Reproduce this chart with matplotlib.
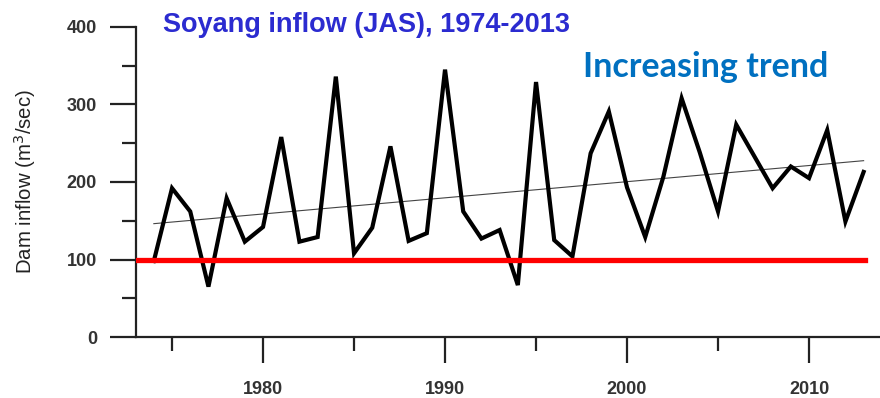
import numpy as np
import matplotlib.pyplot as plt
from matplotlib.ticker import MultipleLocator

# Soyang dam inflow, July-September mean
years = list(range(1974, 2014))
inflow = [98, 192, 162, 65, 179, 123, 142, 258, 123, 129,
          336, 108, 141, 246, 124, 134, 345, 162, 127, 138,
          67, 329, 125, 104, 237, 291, 193, 129, 207, 308,
          238, 162, 274, 233, 192, 220, 205, 267, 149, 213]

threshold = 100
threshold_span = [1973.1, 2013.1]

title = 'Soyang inflow (JAS), 1974-2013'
note = 'Increasing trend'

# linear trend of the series
coef = np.polyfit(years, inflow, 1)
trend = np.polyval(coef, years)

fig = plt.figure(figsize=(8.8, 3.98), dpi=100)
ax = fig.add_axes([136 / 880, 61 / 398, 1 - 136 / 880, (337 - 27) / 398])

ax.plot(years, inflow, color='black', lw=3, solid_joinstyle='miter', zorder=3)
ax.plot(years, trend, color='#444444', lw=0.8, zorder=2)
ax.plot(threshold_span, [threshold, threshold], color='#ff0000', lw=3.8, zorder=4)

ax.set_xlim(1973.02, 2013.9)
ax.set_ylim(0, 400)

ax.spines['top'].set_visible(False)
ax.spines['right'].set_visible(False)
ax.spines['left'].set_bounds(0, 400)
for s in ('left', 'bottom'):
    ax.spines[s].set_linewidth(1.6)
    ax.spines[s].set_color('#222222')

ax.xaxis.set_major_locator(MultipleLocator(10))
ax.xaxis.set_minor_locator(MultipleLocator(5))
ax.yaxis.set_major_locator(MultipleLocator(100))
ax.yaxis.set_minor_locator(MultipleLocator(50))

ax.tick_params(axis='both', which='major', length=19, width=1.6, color='#222222',
               labelsize=13, labelcolor='#333333')
ax.tick_params(axis='both', which='minor', length=10, width=1.6, color='#222222')
ax.tick_params(axis='x', which='major', pad=13)
ax.tick_params(axis='y', which='major', pad=9)
for lab in ax.get_xticklabels() + ax.get_yticklabels():
    lab.set_fontweight('bold')
    lab.set_family('Liberation Sans')

ax.set_ylabel('Dam inflow (m$^3$/sec)', fontsize=14.7, color='#222222',
              family='Liberation Sans')
ax.yaxis.set_label_coords(-0.132, 0.5)

fig.text(163 / 880, 1 - 32 / 398, title, color='#2b2bd0', fontsize=19.5,
         fontweight='bold', family='Liberation Sans', va='baseline')
fig.text(583 / 880, 1 - 77 / 398, note, color='#0070c0', fontsize=24.5,
         fontweight='bold', family='Lato', va='baseline')

fig.savefig('out.png', dpi=100)
